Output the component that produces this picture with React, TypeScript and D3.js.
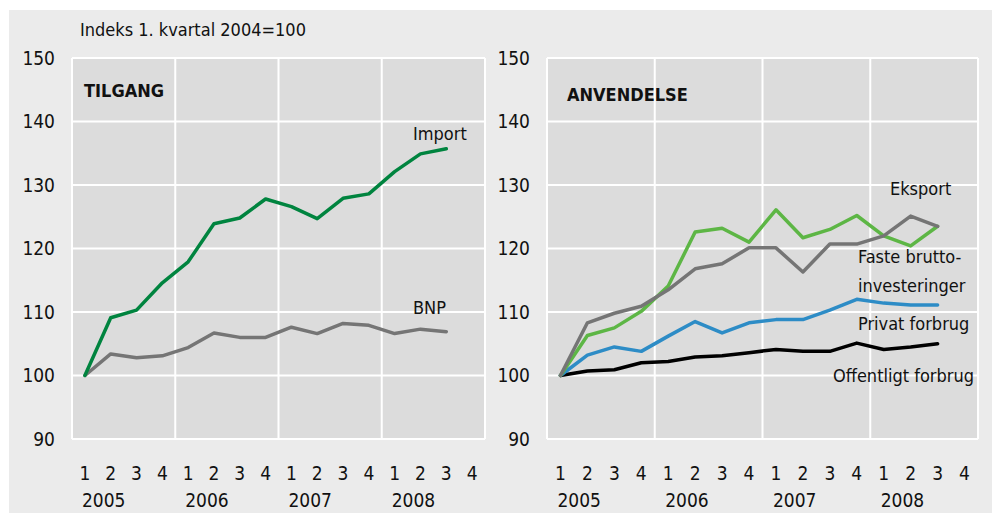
import React from "react";
import * as d3 from "d3";

const quarters = [
  "2005-1", "2005-2", "2005-3", "2005-4",
  "2006-1", "2006-2", "2006-3", "2006-4",
  "2007-1", "2007-2", "2007-3", "2007-4",
  "2008-1", "2008-2", "2008-3", "2008-4",
];
const years = ["2005", "2006", "2007", "2008"];
const yTicks = [90, 100, 110, 120, 130, 140, 150];

// TILGANG
const importValues = [100, 109.1, 110.3, 114.6, 117.9, 123.9, 124.8, 127.8, 126.6, 124.7, 127.9, 128.6, 132.1, 134.9, 135.7];
const bnpValues = [100, 103.4, 102.8, 103.1, 104.4, 106.7, 106.0, 106.0, 107.6, 106.6, 108.2, 107.9, 106.6, 107.3, 106.9];

// ANVENDELSE
const fasteValues = [100, 106.3, 107.5, 110.1, 114.1, 122.6, 123.2, 121.0, 126.1, 121.7, 123.0, 125.2, 122.0, 120.4, 123.5];
const eksportValues = [100, 108.3, 109.8, 110.9, 113.5, 116.8, 117.6, 120.1, 120.1, 116.3, 120.7, 120.7, 122.0, 125.1, 123.5];
const privatValues = [100, 103.2, 104.5, 103.8, 106.2, 108.5, 106.7, 108.3, 108.8, 108.8, 110.3, 112.0, 111.4, 111.1, 111.1];
const offentligValues = [100, 100.7, 100.9, 102.0, 102.2, 102.9, 103.1, 103.6, 104.1, 103.8, 103.8, 105.1, 104.1, 104.5, 105.0];

const FONT = "'Liberation Sans Narrow', 'DejaVu Sans Condensed', 'Arial Narrow', sans-serif";

type Series = { values: number[]; color: string };
type Label = { lines: string[]; x: number; y: number };

interface PanelProps {
  left: number;
  right: number;
  top: number;
  bottom: number;
  title: string;
  titleX: number;
  titleY: number;
  series: Series[];
  labels: Label[];
}

const Panel: React.FC<PanelProps> = ({ left, right, top, bottom, title, titleX, titleY, series, labels }) => {
  const x = d3.scaleBand<string>().domain(quarters).range([left, right]);
  const y = d3.scaleLinear().domain([90, 150]).range([bottom, top]);
  const cx = (i: number) => (x(quarters[i]) ?? 0) + x.bandwidth() / 2;

  const line = d3
    .line<number>()
    .x((_, i) => cx(i))
    .y((d) => y(d));

  const yearStarts = years.map((yr) => x(`${yr}-1`) ?? 0);

  return (
    <g>
      <rect x={left} y={top} width={right - left} height={bottom - top} fill="#dcdcdc" />
      {yTicks.map((t) => (
        <line key={t} x1={left} x2={right} y1={y(t)} y2={y(t)} stroke="#fff" strokeWidth={2} />
      ))}
      {yearStarts.map((xs, i) => (
        <line key={i} x1={xs} x2={xs} y1={top} y2={bottom} stroke="#fff" strokeWidth={2} />
      ))}
      <line x1={right} x2={right} y1={top} y2={bottom} stroke="#fff" strokeWidth={2} />

      {yTicks.map((t) => (
        <text key={t} x={left - 17} y={y(t)} dy="0.35em" textAnchor="end" fontSize={19} fill="#111">
          {t}
        </text>
      ))}
      {quarters.map((q, i) => (
        <text key={q} x={cx(i)} y={473} dy="0.35em" textAnchor="middle" fontSize={19} fill="#111">
          {q.split("-")[1]}
        </text>
      ))}
      {years.map((yr, i) => (
        <text key={yr} x={cx(i * 4) - 3} y={500} dy="0.35em" textAnchor="start" fontSize={19} fill="#111">
          {yr}
        </text>
      ))}

      <text x={titleX} y={titleY} fontSize={18} fontWeight="bold" fill="#111">
        {title}
      </text>

      {series.map((s, i) => (
        <path
          key={i}
          d={line(s.values) ?? ""}
          fill="none"
          stroke={s.color}
          strokeWidth={3.5}
          strokeLinejoin="round"
          strokeLinecap="round"
        />
      ))}

      {labels.map((l, i) => (
        <text key={i} x={l.x} y={l.y} fontSize={18} fill="#111">
          {l.lines.map((ln, j) => (
            <tspan key={j} x={l.x} dy={j === 0 ? 0 : 29}>
              {ln}
            </tspan>
          ))}
        </text>
      ))}
    </g>
  );
};

export default function App() {
  return (
    <svg width={996} height={513} style={{ position: "absolute", left: 0, top: 0, fontFamily: FONT }}>
      <rect x={9} y={10} width={983} height={503} fill="#ebebeb" />
      <text x={80} y={36} fontSize={18} fill="#111">
        Indeks 1. kvartal 2004=100
      </text>
      <Panel
        left={72}
        right={485}
        top={58}
        bottom={439}
        title="TILGANG"
        titleX={84}
        titleY={97}
        series={[
          { values: bnpValues, color: "#757575" },
          { values: importValues, color: "#00843f" },
        ]}
        labels={[
          { lines: ["Import"], x: 413, y: 140 },
          { lines: ["BNP"], x: 413, y: 314 },
        ]}
      />
      <Panel
        left={547}
        right={978}
        top={58}
        bottom={439}
        title="ANVENDELSE"
        titleX={567}
        titleY={101}
        series={[
          { values: offentligValues, color: "#000000" },
          { values: privatValues, color: "#2d8cc6" },
          { values: fasteValues, color: "#5db645" },
          { values: eksportValues, color: "#757575" },
        ]}
        labels={[
          { lines: ["Eksport"], x: 890, y: 195 },
          { lines: ["Faste brutto-", "investeringer"], x: 858, y: 263 },
          { lines: ["Privat forbrug"], x: 858, y: 330 },
          { lines: ["Offentligt forbrug"], x: 833, y: 382 },
        ]}
      />
    </svg>
  );
}
